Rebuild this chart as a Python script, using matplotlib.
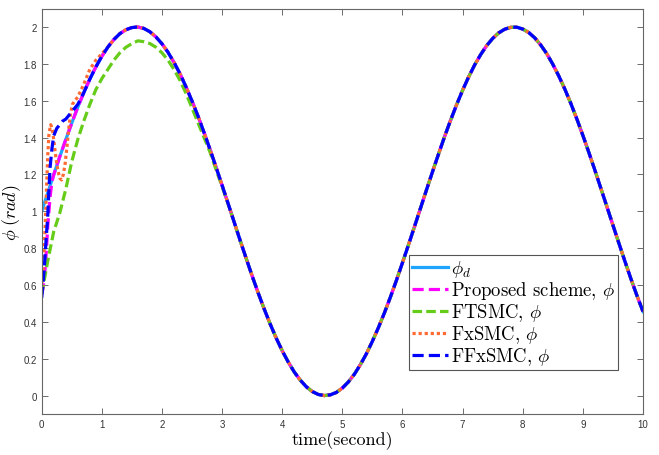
import numpy as np
import matplotlib
matplotlib.use('Agg')
import matplotlib.pyplot as plt
from matplotlib.ticker import FuncFormatter

plt.rcParams['mathtext.fontset'] = 'cm'
plt.rcParams['axes.unicode_minus'] = False

# reference phi_d, sampled every 0.1 s from 0 to 10 s
t_ref = [round(0.1 * k, 1) for k in range(101)]
phi_d = [1.000, 1.100, 1.199, 1.296, 1.389, 1.479, 1.565, 1.644, 1.717, 1.783,
         1.841, 1.891, 1.932, 1.964, 1.985, 1.997, 2.000, 1.992, 1.974, 1.946,
         1.909, 1.863, 1.808, 1.746, 1.675, 1.598, 1.516, 1.427, 1.335, 1.239,
         1.141, 1.042, 0.942, 0.842, 0.745, 0.649, 0.557, 0.470, 0.388, 0.312,
         0.243, 0.182, 0.128, 0.084, 0.048, 0.022, 0.006, 0.000, 0.004, 0.017,
         0.041, 0.074, 0.116, 0.168, 0.227, 0.295, 0.369, 0.449, 0.535, 0.626,
         0.721, 0.818, 0.917, 1.017, 1.117, 1.215, 1.311, 1.405, 1.494, 1.578,
         1.657, 1.729, 1.794, 1.850, 1.899, 1.938, 1.968, 1.988, 1.998, 1.999,
         1.989, 1.970, 1.941, 1.902, 1.855, 1.798, 1.734, 1.663, 1.585, 1.501,
         1.412, 1.319, 1.223, 1.124, 1.025, 0.925, 0.826, 0.728, 0.633, 0.542,
         0.456]

# transient parts of each controller (after that they sit on phi_d)
prop_t = [0, 0.02, 0.04, 0.06, 0.08, 0.1, 0.12, 0.14, 0.17]
prop_v = [0.55, 0.58, 0.63, 0.70, 0.80, 0.92, 1.00, 1.08, 1.16]
prop_join = 2

ftsmc_t = [0, 0.1, 0.2, 0.3, 0.4, 0.5, 0.6, 0.7, 0.8, 0.9, 1.0, 1.1, 1.2, 1.3,
           1.4, 1.5, 1.6, 1.7, 1.8, 1.9, 2.0, 2.1, 2.2, 2.3, 2.4, 2.5, 2.6,
           2.7, 2.8, 2.9, 3.0, 3.1]
ftsmc_v = [0.55, 0.73, 0.89, 0.99, 1.12, 1.27, 1.39, 1.49, 1.58, 1.66, 1.72,
           1.77, 1.82, 1.86, 1.89, 1.91, 1.925, 1.92, 1.91, 1.89, 1.86, 1.82,
           1.77, 1.71, 1.64, 1.56, 1.48, 1.40, 1.32, 1.225, 1.135, 1.04]
ftsmc_join = 32

fx_t = [0, 0.02, 0.04, 0.06, 0.08, 0.1, 0.12, 0.15, 0.18, 0.21, 0.24, 0.27,
        0.3, 0.33, 0.36, 0.39, 0.42, 0.45, 0.48, 0.51, 0.55, 0.6, 0.7, 0.8,
        0.9, 1.0]
fx_v = [0.58, 0.66, 0.78, 0.94, 1.12, 1.30, 1.42, 1.47, 1.44, 1.36, 1.28,
        1.22, 1.18, 1.17, 1.20, 1.26, 1.35, 1.45, 1.53, 1.58, 1.60, 1.62,
        1.69, 1.77, 1.82, 1.855]
fx_join = 11

ffx_t = [0, 0.02, 0.04, 0.06, 0.08, 0.1, 0.12, 0.14, 0.17, 0.2, 0.25, 0.3,
         0.35, 0.4, 0.45, 0.5, 0.55, 0.6]
ffx_v = [0.53, 0.60, 0.68, 0.78, 0.88, 0.97, 1.12, 1.24, 1.34, 1.41, 1.45,
         1.47, 1.49, 1.50, 1.52, 1.54, 1.56, 1.58]
ffx_join = 7

labels = [r'$\phi_d$', r'Proposed scheme, $\phi$', r'FTSMC, $\phi$',
          r'FxSMC, $\phi$', r'FFxSMC, $\phi$']

fig = plt.figure(figsize=(6.59, 4.56), dpi=100, facecolor='w')
ax = fig.add_axes([0.0633, 0.0899, 0.9124, 0.8891])

lw = 2.3
ax.plot(t_ref, phi_d, color='#1ea5ff', lw=lw, label=labels[0])
ax.plot(prop_t + t_ref[prop_join:], prop_v + phi_d[prop_join:],
        color='#ff00ff', lw=lw, dashes=(3.5, 1.6), label=labels[1])
ax.plot(ftsmc_t + t_ref[ftsmc_join:], ftsmc_v + phi_d[ftsmc_join:],
        color='#66cc1a', lw=lw, dashes=(3.0, 1.3), label=labels[2])
ax.plot(fx_t + t_ref[fx_join:], fx_v + phi_d[fx_join:],
        color='#ff6a33', lw=lw, dashes=(1.0, 0.9), label=labels[3])
ax.plot(ffx_t + t_ref[ffx_join:], ffx_v + phi_d[ffx_join:],
        color='#0000ff', lw=lw, dashes=(3.5, 1.6), label=labels[4])

ax.set_xlim(0, 10)
ax.set_ylim(-0.1, 2.1)
ax.set_xticks(np.arange(0, 11, 1))
ax.set_yticks(np.arange(0, 2.01, 0.2))
ax.yaxis.set_major_formatter(FuncFormatter(lambda v, p: '%g' % round(v, 1)))
ax.tick_params(direction='in', top=True, right=True, length=4, width=0.6,
               colors='#555555', labelsize=7, labelcolor='#333333')
for lab in ax.get_xticklabels() + ax.get_yticklabels():
    lab.set_family('Liberation Sans')
for s in ax.spines.values():
    s.set_color('#666666')
    s.set_linewidth(0.8)

ax.set_xlabel('time(second)', family='cmr10', fontsize=13, labelpad=1)
ax.set_ylabel(r'$\phi\;(rad)$', fontsize=13, labelpad=0)

leg = ax.legend(loc='lower right', bbox_to_anchor=(0.958, 0.1085),
                borderaxespad=0, fancybox=False, edgecolor='#555555',
                framealpha=1, prop={'family': 'cmr10', 'size': 13.5},
                handlelength=1.9, handletextpad=0.15, labelspacing=0.0,
                borderpad=0.15)
leg.get_frame().set_linewidth(0.8)

fig.savefig('out.png', dpi=100)
